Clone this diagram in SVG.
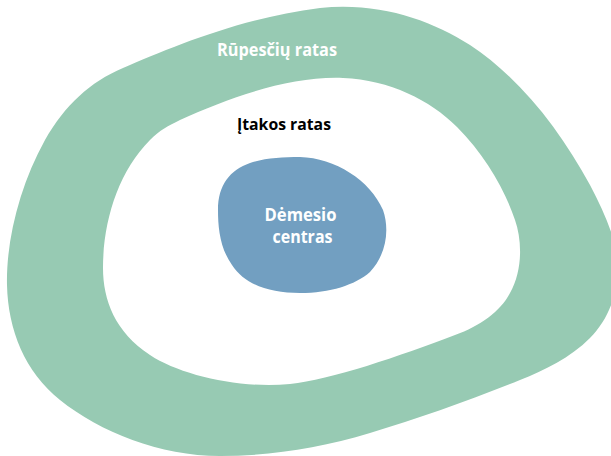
<svg xmlns="http://www.w3.org/2000/svg" width="611" height="456" viewBox="0 0 611 456">
  <style>
    .lbl { font-family: "Open Sans", "Liberation Sans", sans-serif; font-weight: 700; text-anchor: middle; }
    .light { fill: #ffffff; }
    .dark { fill: #000000; }
  </style>
  <rect width="611" height="456" fill="#ffffff"/>

  <!-- outer ring: circle of concern -->
  <g id="concern">
    <path fill="#97cab3" d="M 123,68 C 170,48 240,18 320,8 C 380,2 430,20 470,45 C 520,78 560,130 590,185 C 605,213 618,245 618,265 C 618,295 608,320 590,338 C 570,358 545,370 520,380 C 470,400 420,418 370,433 C 320,448 270,456 220,456 C 160,456 100,432 60,400 C 25,372 8,330 7,285 C 6,240 20,185 45,140 C 65,105 90,82 123,68 Z"/>
    <text class="lbl light" x="277" y="56" font-size="18" textLength="120" lengthAdjust="spacingAndGlyphs">Rūpesčių ratas</text>
  </g>

  <!-- middle area: circle of influence -->
  <g id="influence">
    <path fill="#ffffff" d="M 180,120 C 230,97 290,76 343,78 C 390,80 430,100 457,127 C 485,155 505,190 515,220 C 522,240 523,270 510,293 C 500,312 480,326 455,335 C 400,356 330,380 290,384 C 240,389 180,375 150,355 C 115,332 103,300 103,268 C 103,222 118,172 150,140 C 160,130 168,126 180,120 Z"/>
    <text class="lbl dark" x="284" y="129.5" font-size="16" textLength="94" lengthAdjust="spacingAndGlyphs">Įtakos ratas</text>
  </g>

  <!-- core: circle of focus -->
  <g id="focus">
    <path fill="#729fc1" d="M 300,157 C 335,158 370,180 383,210 C 390,230 386,255 370,272 C 355,285 330,293 300,293 C 270,293 245,285 232,265 C 220,248 218,228 218,210 C 218,185 230,170 250,163 C 265,158 282,157 300,157 Z"/>
    <text class="lbl light" x="300.5" y="221" font-size="17" textLength="72" lengthAdjust="spacingAndGlyphs">Dėmesio</text>
    <text class="lbl light" x="302.5" y="243" font-size="17" textLength="60" lengthAdjust="spacingAndGlyphs">centras</text>
  </g>
</svg>
